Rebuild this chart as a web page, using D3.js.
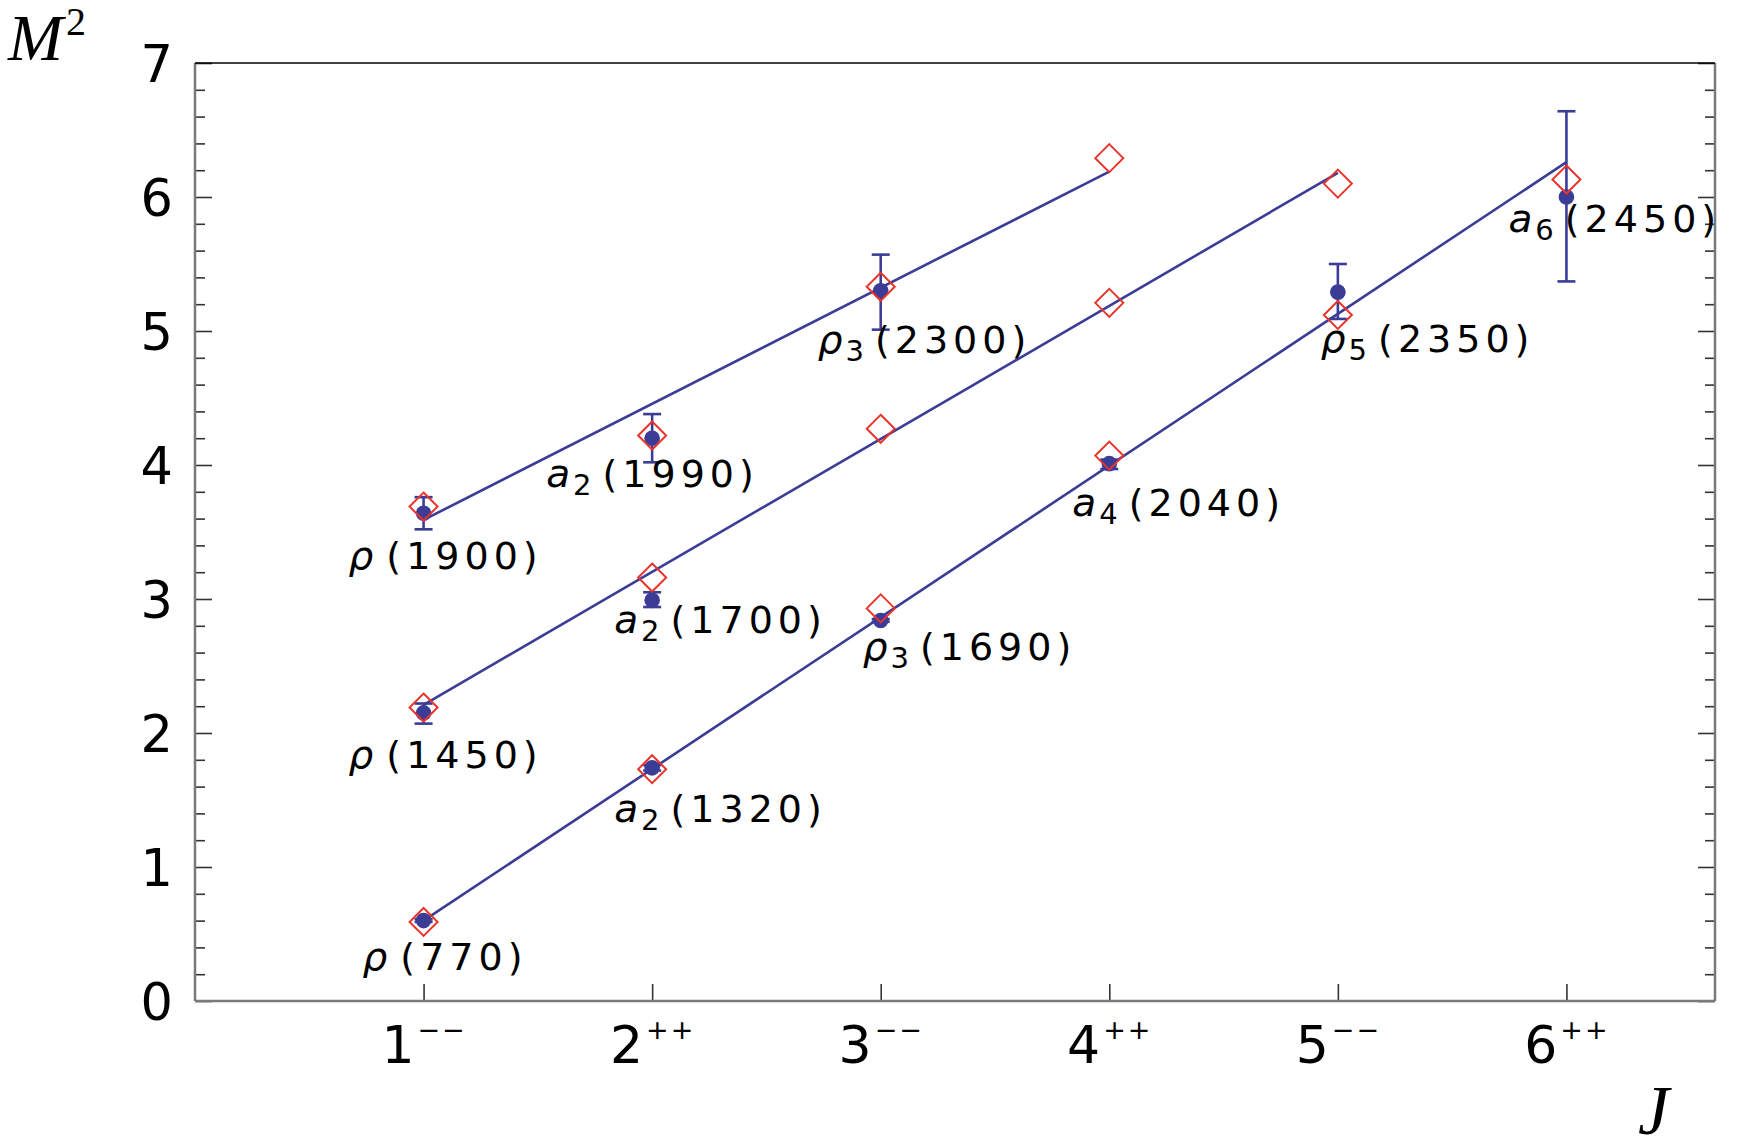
<!DOCTYPE html>
<html>
<head>
<meta charset="utf-8">
<script src="https://cdn.jsdelivr.net/npm/d3@7"></script>
<style>
  html, body { margin: 0; padding: 0; background: #fff; }
  svg { display: block; }
</style>
</head>
<body>
<svg id="chart" width="1738" height="1148"></svg>
<script>
// ---------------- data ----------------
const jValues = [1, 2, 3, 4, 5, 6];
const jDigits = ["1", "2", "3", "4", "5", "6"];
const jParity = ["\u2212\u2212", "++", "\u2212\u2212", "++", "\u2212\u2212", "++"];
const yMajorTicks = [0, 1, 2, 3, 4, 5, 6, 7];
const yTickLabels = ["0", "1", "2", "3", "4", "5", "6", "7"];

// experimental states (filled circles with error bars)
const expSymbol = ["\u03C1", "a", "\u03C1", "\u03C1", "a", "\u03C1", "a", "\u03C1", "a", "\u03C1", "a"];
const expSub    = ["", "2", "3", "", "2", "", "2", "3", "4", "5", "6"];
const expMass   = ["1900", "1990", "2300", "1450", "1700", "770", "1320", "1690", "2040", "2350", "2450"];
const expJ      = [1, 2, 3, 1, 2, 1, 2, 3, 4, 5, 6];
const expM      = [3.64, 4.20, 5.30, 2.15, 2.99, 0.60, 1.74, 2.84, 4.01, 5.29, 6.00];
const expLo     = [3.52, 4.02, 5.01, 2.07, 2.94, 0.59, 1.72, 2.83, 3.97, 5.09, 5.37];
const expHi     = [3.76, 4.38, 5.57, 2.22, 3.05, 0.61, 1.76, 2.85, 4.04, 5.50, 6.64];

// theoretical predictions (open diamonds)
const thJ = [1, 2, 3, 4,   1, 2, 3, 4, 5,   1, 2, 3, 4, 5, 6];
const thM = [3.69, 4.22, 5.33, 6.29,   2.19, 3.16, 4.27, 5.21, 6.10,   0.59, 1.73, 2.93, 4.07, 5.12, 6.13];

// fitted trajectories (straight lines)
const trajJ = [[1, 4], [1, 5], [1, 6]];
const trajM = [[3.59, 6.19], [2.21, 6.18], [0.60, 6.26]];

// ---------------- layout (pixel offsets of labels relative to their point) ----------------
const labelOffset = [
  [-75, 56], [-106, 49], [-63, 62], [-75, 55], [-38, 33], [-61, 49],
  [-38, 54], [-18, 40], [-37, 52], [-17, 60], [-58, 35]
];

const NAVY = "#3b3c96";
const RED = "#e8352b";
const AXIS_GREY = "#7a7a7a";

const svg = d3.select("#chart");
const pLeft = 195, pRight = 1715, pTop = 63, pBottom = 1001;

const x = d3.scaleLinear().domain([0, 6.65]).range([pLeft, pRight]);
const y = d3.scaleLinear().domain([0, 7]).range([pBottom, pTop]);

const minorTicks = d3.range(0, 7.001, 0.2).filter(v => Math.abs(v - Math.round(v)) > 1e-6);

// ---------------- axes ----------------
function styleAxis(g) {
  g.select(".domain").remove();
  g.selectAll(".tick line").attr("stroke", "#333").attr("stroke-width", 1.6);
}

// left major
const gLeft = svg.append("g").attr("transform", `translate(${pLeft},0)`)
  .call(d3.axisLeft(y).tickValues(yMajorTicks).tickSizeInner(-17).tickSizeOuter(0)
    .tickPadding(22).tickFormat((d, i) => yTickLabels[i]));
styleAxis(gLeft);
gLeft.selectAll(".tick text")
  .attr("font-family", "DejaVu Sans, sans-serif").attr("font-size", 51)
  .attr("fill", "#000").attr("dy", "0.36em");
// left minor
const gLeftMinor = svg.append("g").attr("transform", `translate(${pLeft},0)`)
  .call(d3.axisLeft(y).tickValues(minorTicks).tickSizeInner(-10).tickSizeOuter(0).tickFormat(""));
styleAxis(gLeftMinor);

// right major + minor
const gRight = svg.append("g").attr("transform", `translate(${pRight},0)`)
  .call(d3.axisRight(y).tickValues(yMajorTicks).tickSizeInner(-17).tickSizeOuter(0).tickFormat(""));
styleAxis(gRight);
const gRightMinor = svg.append("g").attr("transform", `translate(${pRight},0)`)
  .call(d3.axisRight(y).tickValues(minorTicks).tickSizeInner(-10).tickSizeOuter(0).tickFormat(""));
styleAxis(gRightMinor);

// bottom
const gBottom = svg.append("g").attr("transform", `translate(0,${pBottom})`)
  .call(d3.axisBottom(x).tickValues(jValues).tickSizeInner(-17).tickSizeOuter(0).tickFormat(""));
styleAxis(gBottom);
gBottom.selectAll(".tick").each(function (d, i) {
  const t = d3.select(this).append("text")
    .attr("y", 62).attr("text-anchor", "middle")
    .attr("font-family", "DejaVu Sans, sans-serif").attr("fill", "#000");
  t.append("tspan").attr("font-size", 52).text(jDigits[i]);
  t.append("tspan").attr("font-size", 27).attr("dy", -24).attr("dx", 3)
    .attr("letter-spacing", 2).text(jParity[i]);
});

// frame
svg.append("line").attr("x1", pLeft).attr("x2", pLeft).attr("y1", pTop).attr("y2", pBottom)
  .attr("stroke", AXIS_GREY).attr("stroke-width", 2.5);
svg.append("line").attr("x1", pRight).attr("x2", pRight).attr("y1", pTop).attr("y2", pBottom)
  .attr("stroke", AXIS_GREY).attr("stroke-width", 2.5);
svg.append("line").attr("x1", pLeft).attr("x2", pRight).attr("y1", pBottom).attr("y2", pBottom)
  .attr("stroke", AXIS_GREY).attr("stroke-width", 2.5);
svg.append("line").attr("x1", pLeft).attr("x2", pRight).attr("y1", pTop).attr("y2", pTop)
  .attr("stroke", "#000").attr("stroke-width", 1.6);

// axis titles
const mLab = svg.append("text").attr("x", 8).attr("y", 60)
  .attr("font-family", "Liberation Serif, DejaVu Serif, serif").attr("fill", "#000");
mLab.append("tspan").attr("font-style", "italic").attr("font-size", 66).text("M");
mLab.append("tspan").attr("font-size", 40).attr("dy", -25).attr("dx", 3).text("2");

svg.append("text").attr("x", 1638).attr("y", 1134)
  .attr("font-family", "Liberation Serif, DejaVu Serif, serif").attr("font-style", "italic")
  .attr("font-size", 70).attr("fill", "#000").text("J");

// ---------------- trajectories ----------------
svg.append("g").selectAll("line").data(trajJ).join("line")
  .attr("x1", d => x(d[0])).attr("x2", d => x(d[1]))
  .attr("y1", (d, i) => y(trajM[i][0])).attr("y2", (d, i) => y(trajM[i][1]))
  .attr("stroke", NAVY).attr("stroke-width", 2.6);

// ---------------- error bars & circles ----------------
const expIdx = d3.range(expJ.length);
const gErr = svg.append("g").attr("stroke", NAVY).attr("stroke-width", 2.6);
gErr.selectAll("line.v").data(expIdx).join("line").attr("class", "v")
  .attr("x1", i => x(expJ[i])).attr("x2", i => x(expJ[i]))
  .attr("y1", i => y(expLo[i])).attr("y2", i => y(expHi[i]));
gErr.selectAll("line.lo").data(expIdx).join("line").attr("class", "lo")
  .attr("x1", i => x(expJ[i]) - 9).attr("x2", i => x(expJ[i]) + 9)
  .attr("y1", i => y(expLo[i])).attr("y2", i => y(expLo[i]));
gErr.selectAll("line.hi").data(expIdx).join("line").attr("class", "hi")
  .attr("x1", i => x(expJ[i]) - 9).attr("x2", i => x(expJ[i]) + 9)
  .attr("y1", i => y(expHi[i])).attr("y2", i => y(expHi[i]));

svg.append("g").selectAll("circle").data(expIdx).join("circle")
  .attr("cx", i => x(expJ[i])).attr("cy", i => y(expM[i])).attr("r", 7.8)
  .attr("fill", NAVY);

// ---------------- diamonds ----------------
const diamond = "M0,-14L14,0L0,14L-14,0Z";
svg.append("g").selectAll("path").data(d3.range(thJ.length)).join("path")
  .attr("d", diamond)
  .attr("transform", i => `translate(${x(thJ[i])},${y(thM[i])})`)
  .attr("fill", "none").attr("stroke", RED).attr("stroke-width", 2);

// ---------------- labels ----------------
const gLab = svg.append("g").attr("font-family", "DejaVu Sans, sans-serif").attr("fill", "#000");
expIdx.forEach(i => {
  const px = x(expJ[i]) + labelOffset[i][0];
  const py = y(expM[i]) + labelOffset[i][1];
  const t = gLab.append("text").attr("x", px).attr("y", py);
  t.append("tspan").attr("font-style", "italic").attr("font-size", 39).text(expSymbol[i]);
  if (expSub[i]) {
    t.append("tspan").attr("font-size", 29).attr("dy", 8).attr("dx", 3).text(expSub[i]);
    t.append("tspan").attr("font-size", 38).attr("dy", -8).attr("dx", 11)
      .attr("letter-spacing", 5).text("(" + expMass[i] + ")");
  } else {
    t.append("tspan").attr("font-size", 38).attr("dx", 13)
      .attr("letter-spacing", 5).text("(" + expMass[i] + ")");
  }
});
</script>
</body>
</html>
